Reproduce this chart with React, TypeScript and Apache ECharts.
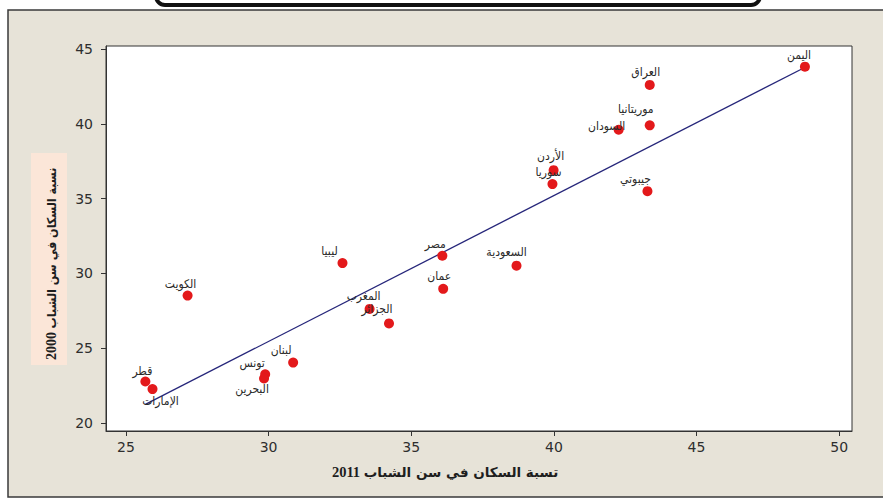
import React, { useEffect, useRef } from "react";
import * as echarts from "echarts";

// Arab countries: share of youth in the population, 2011 vs 2000
const countries = [
  "اليمن", "العراق", "موريتانيا", "السودان", "الأردن", "سوريا", "جيبوتي",
  "السعودية", "مصر", "عمان", "ليبيا", "المغرب", "الجزائر", "الكويت",
  "لبنان", "تونس", "البحرين", "قطر", "الإمارات",
];
const youth2011 = [
  48.8, 43.36, 43.36, 42.27, 39.99, 39.95, 43.28,
  38.69, 36.09, 36.12, 32.59, 33.54, 34.22, 27.16,
  30.86, 29.88, 29.84, 25.68, 25.93,
];
const youth2000 = [
  43.82, 42.6, 39.9, 39.6, 36.9, 35.97, 35.5,
  30.52, 31.18, 28.97, 30.69, 27.63, 26.66, 28.52,
  24.04, 23.26, 22.98, 22.78, 22.27,
];
// fitted regression line (end points)
const fitX = [25.68, 48.81];
const fitY = [21.25, 43.78];

const xTicks = [25, 30, 35, 40, 45, 50];
const yTicks = [20, 25, 30, 35, 40, 45];

const xTitle = "تسبة السكان في سن الشباب";
const xTitleYear = "2011";
const yTitle = "نسبة السكان في سن الشباب";
const yTitleYear = "2000";

// label placement around each marker (px, label centre relative to point)
const labelOffsets: Record<string, [number, number]> = {
  "اليمن": [-6, -12],
  "العراق": [-4, -13],
  "موريتانيا": [-14, -16],
  "السودان": [-12, -4],
  "الأردن": [-3, -14],
  "سوريا": [-4, -12],
  "جيبوتي": [-12, -12],
  "السعودية": [-10, -14],
  "مصر": [-7, -12],
  "عمان": [-4, -13],
  "ليبيا": [-13, -12],
  "المغرب": [-6, -13],
  "الجزائر": [-12, -14],
  "الكويت": [-7, -12],
  "لبنان": [-12, -13],
  "تونس": [-13, -11],
  "البحرين": [-12, 11],
  "قطر": [-3, -10],
  "الإمارات": [8, 12],
};

export default function App() {
  const ref = useRef<HTMLDivElement>(null);

  useEffect(() => {
    document.body.style.margin = "0";
    const chart = echarts.init(ref.current!, null, { renderer: "svg" });

    const points = countries.map((name, i) => ({
      name,
      value: [youth2011[i], youth2000[i]],
      label: { offset: labelOffsets[name] || [0, -12] },
    }));

    const axisCommon = {
      type: "value" as const,
      axisLine: { show: true, onZero: false, lineStyle: { color: "#333", width: 1 } },
      splitLine: { show: false },
    };

    chart.setOption({
      animation: false,
      backgroundColor: "transparent",
      graphic: [
        // outer panel
        {
          type: "rect",
          z: -10,
          shape: { x: 8, y: 10, width: 900, height: 487 },
          style: { fill: "#e7e3d8", stroke: "#3a3a3a", lineWidth: 1.5 },
        },
        // rounded box above the panel
        {
          type: "rect",
          z: -9,
          shape: { x: 156, y: -30, width: 604, height: 35, r: 9 },
          style: { fill: "#ffffff", stroke: "#111", lineWidth: 4 },
        },
        // y title backdrop
        {
          type: "rect",
          z: -8,
          shape: { x: 31, y: 153, width: 36, height: 212 },
          style: { fill: "#fbe6d8" },
        },
        {
          type: "text",
          x: 51,
          y: 248,
          rotation: Math.PI / 2,
          style: {
            text: yTitle,
            font: 'bold 12.4px "DejaVu Sans Condensed", "DejaVu Sans"',
            fill: "#1e1e1e",
            align: "center",
            verticalAlign: "middle",
          },
        },
        {
          type: "text",
          x: 51,
          y: 346,
          rotation: Math.PI / 2,
          style: {
            text: yTitleYear,
            font: 'bold 14px "Liberation Serif"',
            fill: "#1e1e1e",
            align: "center",
            verticalAlign: "middle",
          },
        },
        {
          type: "text",
          x: 461,
          y: 472,
          style: {
            text: xTitle,
            font: 'bold 13.5px "DejaVu Sans"',
            fill: "#1e1e1e",
            align: "center",
            verticalAlign: "middle",
          },
        },
        {
          type: "text",
          x: 346,
          y: 472,
          style: {
            text: xTitleYear,
            font: 'bold 14.5px "Liberation Serif"',
            fill: "#1e1e1e",
            align: "center",
            verticalAlign: "middle",
          },
        },
      ],
      grid: {
        left: 106,
        top: 46,
        right: 31,
        bottom: 70,
        show: true,
        backgroundColor: "#ffffff",
        borderColor: "#333",
        borderWidth: 1,
        containLabel: false,
      },
      xAxis: {
        ...axisCommon,
        min: 24.3,
        max: 50.45,
        axisTick: { show: true, length: 5, customValues: xTicks, lineStyle: { color: "#333" } },
        axisLabel: {
          customValues: xTicks,
          margin: 9,
          color: "#2e2e2e",
          fontSize: 14,
          fontFamily: "DejaVu Sans",
        },
      },
      yAxis: {
        ...axisCommon,
        min: 19.47,
        max: 45.2,
        axisTick: { show: true, length: 5, customValues: yTicks, lineStyle: { color: "#333" } },
        axisLabel: {
          customValues: yTicks,
          margin: 13,
          color: "#2e2e2e",
          fontSize: 14,
          fontFamily: "DejaVu Sans",
        },
      },
      series: [
        {
          type: "line",
          data: fitX.map((x, i) => [x, fitY[i]]),
          symbol: "none",
          silent: true,
          z: 1,
          lineStyle: { color: "#26267a", width: 1.3 },
        },
        {
          type: "scatter",
          z: 2,
          symbolSize: 10,
          itemStyle: { color: "#e3191b", opacity: 1 },
          data: points,
          label: {
            show: true,
            position: "inside",
            formatter: "{b}",
            color: "#2a2a2a",
            fontSize: 12,
            fontFamily: "DejaVu Sans Condensed, DejaVu Sans",
            align: "center",
            verticalAlign: "middle",
          },
        },
      ],
    });

    return () => chart.dispose();
  }, []);

  return (
    <div
      ref={ref}
      style={{ position: "fixed", left: 0, top: 0, width: 883, height: 501, background: "#fff" }}
    />
  );
}
